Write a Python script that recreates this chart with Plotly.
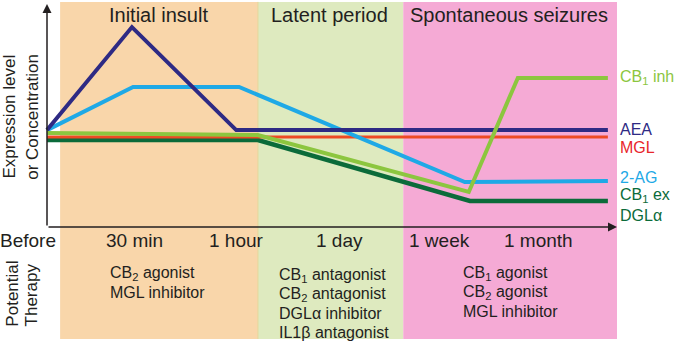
import plotly.graph_objects as go

# ---------------- data ----------------
# x: arbitrary time units (Before = 0, end of chart ~ 100)
# y: relative expression level / concentration (0 = x-axis, 100 = top)
aea_x = [0, 14.9, 33.2, 98.4]
aea_y = [43.4, 90.0, 43.4, 43.4]

ag2_x = [0, 15.1, 33.7, 73.3, 98.4]
ag2_y = [43.4, 62.9, 62.9, 19.9, 20.4]

mgl_x = [0, 98.4]
mgl_y = [40.3, 40.3]

cb1inh_x = [0, 37.0, 74.0, 82.6, 98.4]
cb1inh_y = [42.1, 41.2, 15.4, 67.0, 67.0]

cb1ex_x = [0, 37.0, 74.2, 98.4]
cb1ex_y = [38.9, 38.9, 11.3, 11.3]

phase_names = ["Initial insult", "Latent period", "Spontaneous seizures"]
phase_start = [2.3, 37.0, 62.5]
phase_end = [37.0, 62.5, 100.0]
phase_colors = ["#F9D6AA", "#DEEABF", "#F5AAD5"]
phase_title_x = [19.6, 49.6, 81.0]

time_labels = ["Before", "30 min", "1 hour", "1 day", "1 week", "1 month"]
time_label_x = [-3.4, 15.4, 33.2, 51.4, 68.8, 86.3]

therapies = [
    ["CB<sub>2</sub> agonist", "MGL inhibitor"],
    ["CB<sub>1</sub> antagonist", "CB<sub>2</sub> antagonist",
     "DGLα inhibitor", "IL1β antagonist"],
    ["CB<sub>1</sub> agonist", "CB<sub>2</sub> agonist", "MGL inhibitor"],
]
therapy_x = [10.7, 40.4, 72.6]
therapy_top = [-21.3, -22.2, -21.3]
therapy_step = -8.6

right_labels = ["CB<sub>1</sub> inh", "AEA", "MGL", "2-AG", "CB<sub>1</sub> ex", "DGLα"]
right_label_y = [67.0, 43.6, 35.6, 22.0, 13.9, 4.9]
right_label_colors = ["#8CC63F", "#2E2A84", "#E8262B", "#1FA9E6", "#0B6B3A", "#0B6B3A"]

# ---------------- figure ----------------
FONT = "Liberation Sans, Arial, Helvetica, sans-serif"
TXT = "#231F20"

fig = go.Figure()

shapes = []
for s, e, c in zip(phase_start, phase_end, phase_colors):
    shapes.append(dict(type="rect", xref="x", yref="y", x0=s, x1=e, y0=-51.1, y1=101.4,
                       fillcolor=c, line=dict(width=0), layer="below"))
shapes.append(dict(type="line", xref="x", yref="y", x0=phase_end[0], x1=phase_end[0],
                   y0=-51.1, y1=101.4, line=dict(color="#E6D597", width=1), layer="below"))

series = [
    (cb1ex_x, cb1ex_y, "#0B6B3A", 4.5),
    (mgl_x, mgl_y, "#EE4A24", 3),
    (ag2_x, ag2_y, "#1FA9E6", 4),
    (aea_x, aea_y, "#2E2A84", 4),
    (cb1inh_x, cb1inh_y, "#8CC63F", 4),
]
for xs, ys, col, w in series:
    fig.add_trace(go.Scatter(x=xs, y=ys, mode="lines",
                             line=dict(color=col, width=w), showlegend=False,
                             hoverinfo="skip"))

ann = []
# axes arrows
ann.append(dict(x=0, y=100.4, ax=0, ay=-0.4, xref="x", yref="y", axref="x", ayref="y",
                showarrow=True, arrowhead=2, arrowsize=1.2, arrowwidth=1.5,
                arrowcolor=TXT, text=""))
ann.append(dict(x=100, y=-0.4, ax=0, ay=-0.4, xref="x", yref="y", axref="x", ayref="y",
                showarrow=True, arrowhead=2, arrowsize=1.2, arrowwidth=1.5,
                arrowcolor=TXT, text=""))

for name, px in zip(phase_names, phase_title_x):
    ann.append(dict(x=px, y=95.5, xref="x", yref="y", text=name, showarrow=False,
                    font=dict(family=FONT, size=20, color=TXT),
                    xanchor="center", yanchor="middle"))

for lab, px in zip(time_labels, time_label_x):
    ann.append(dict(x=px, y=-6.6, xref="x", yref="y", text=lab, showarrow=False,
                    font=dict(family=FONT, size=19, color=TXT),
                    xanchor="center", yanchor="middle"))

for lines, px, top in zip(therapies, therapy_x, therapy_top):
    for i, ln in enumerate(lines):
        ann.append(dict(x=px, y=top + i * therapy_step, xref="x", yref="y", text=ln,
                        showarrow=False, font=dict(family=FONT, size=16, color=TXT),
                        xanchor="left", yanchor="middle"))

for lab, py, col in zip(right_labels, right_label_y, right_label_colors):
    ann.append(dict(x=100.2, y=py, xref="x", yref="y", text=lab, showarrow=False,
                    font=dict(family=FONT, size=16, color=col),
                    xanchor="left", yanchor="middle"))

# rotated axis titles
for txt, px, py in [("Expression level", -6.5, 49.5), ("or Concentration", -2.6, 49.5),
                    ("Potential", -6.1, -30.5), ("Therapy", -2.8, -31.4)]:
    ann.append(dict(x=px, y=py, xref="x", yref="y", text=txt, showarrow=False,
                    textangle=-90, font=dict(family=FONT, size=17, color=TXT),
                    xanchor="center", yanchor="middle"))

fig.update_layout(
    width=675, height=343,
    margin=dict(l=0, r=0, t=0, b=0),
    paper_bgcolor="white", plot_bgcolor="white",
    xaxis=dict(range=[-47 / 5.7, 628 / 5.7], visible=False, fixedrange=True),
    yaxis=dict(range=[-117 / 2.21, 226 / 2.21], visible=False, fixedrange=True),
    shapes=shapes, annotations=ann,
)

fig.write_html("out.html")
